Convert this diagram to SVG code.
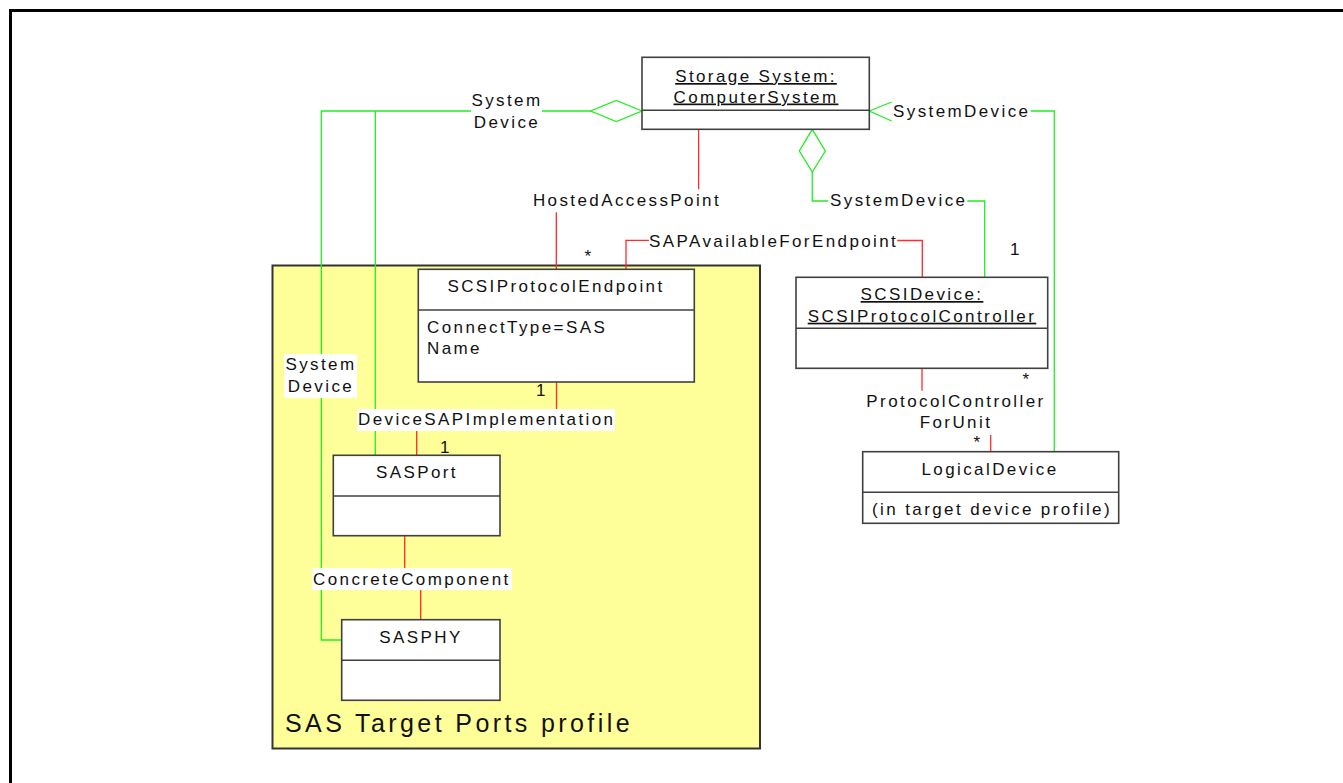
<svg xmlns="http://www.w3.org/2000/svg" width="1343" height="783" viewBox="0 0 1343 783">
<style>
text{font-family:"Liberation Sans",Arial,sans-serif;font-size:17px;letter-spacing:2.4px;fill:#111}
.c{text-anchor:middle}
.u{text-decoration:underline}
.box{fill:#fff;stroke:#404040;stroke-width:1.6}
.div{stroke:#404040;stroke-width:1.6}
.g{fill:none;stroke:#22ee22;stroke-width:1.3}
.r{fill:none;stroke:#ff2a2a;stroke-width:1.3}
.bg{fill:#fff}
</style>
<rect x="10.5" y="10.5" width="1400" height="1000" fill="none" stroke="#000" stroke-width="3"/>
<g id="profile">
<rect x="272.5" y="265.5" width="487.5" height="483" fill="#ffff99" stroke="#333" stroke-width="2"/>
<text x="285" y="731.5" style="font-size:25px;letter-spacing:3.4px">SAS Target Ports profile</text>
</g>
<g id="connectors">
<path class="g" d="M590.7 111H321.3V640H341.7"/>
<path class="g" d="M375.3 111V455.3"/>
<path d="M642 111L616.3 100.5L590.7 111L616.3 121.5Z" fill="#fff" stroke="#22ee22" stroke-width="1.3"/>
<path class="g" d="M891.7 102L869.3 111L891.7 121"/>
<path class="g" d="M1030.7 111H1054.3V451.7"/>
<path d="M812.3 129.3L825.3 151L812.3 172L799.3 151Z" fill="#fff" stroke="#22ee22" stroke-width="1.3"/>
<path class="g" d="M812.3 172V201H828.3"/>
<path class="g" d="M967.3 201H984.7V277.3"/>
<path class="r" d="M698.6 129.3V189.3"/>
<path class="r" d="M556.3 212.3V269.3"/>
<path class="r" d="M626 269.3V240.3H648.9"/>
<path class="r" d="M897.3 240.5H922.3V277.3"/>
<path class="r" d="M556.5 382V409"/>
<path class="r" d="M416.7 431V455.3"/>
<path class="r" d="M404.7 535.7V568"/>
<path class="r" d="M420.7 590V619.7"/>
<path class="r" d="M922 368.3V390.7"/>
<path class="r" d="M990.7 435V451.7"/>
<rect class="bg" x="471" y="95" width="71" height="38"/>
<text class="c" x="507" y="106">System</text>
<text class="c" x="507" y="127.7">Device</text>
<text class="c" x="627" y="206">HostedAccessPoint</text>
<text x="649" y="246.7">SAPAvailableForEndpoint</text>
<text x="893" y="116.7">SystemDevice</text>
<text x="830" y="206">SystemDevice</text>
<text x="1010" y="255">1</text>
<text class="c" x="589" y="262">*</text>
<text class="c" x="1027" y="385">*</text>
<text class="c" x="978" y="448">*</text>
<text class="c" x="542" y="395.7">1</text>
<text class="c" x="446" y="452.7">1</text>
<rect class="bg" x="357" y="409" width="258" height="22"/>
<text x="358" y="425">DeviceSAPImplementation</text>
<rect class="bg" x="284" y="354" width="73" height="44"/>
<text class="c" x="321" y="370">System</text>
<text class="c" x="321" y="391.7">Device</text>
<rect class="bg" x="312" y="568" width="200" height="22"/>
<text x="313" y="585">ConcreteComponent</text>
<text class="c" x="956" y="406.7">ProtocolController</text>
<text class="c" x="956" y="428.3">ForUnit</text>
</g>
<g id="storage-system">
<rect class="box" x="642" y="57.3" width="227.3" height="72"/>
<line class="div" x1="642" y1="110.3" x2="869.3" y2="110.3"/>
<text class="c u" x="756" y="82">Storage System:</text>
<text class="c u" x="756" y="102.5">ComputerSystem</text>
</g>
<g id="scsi-protocol-endpoint">
<rect class="box" x="418.3" y="269.3" width="276" height="112.7"/>
<line class="div" x1="418.3" y1="310" x2="694.3" y2="310"/>
<text class="c" x="556" y="292">SCSIProtocolEndpoint</text>
<text x="427" y="333">ConnectType=SAS</text>
<text x="427" y="354">Name</text>
</g>
<g id="sasport">
<rect class="box" x="333.3" y="455.3" width="166.7" height="80.4"/>
<line class="div" x1="333.3" y1="496" x2="500" y2="496"/>
<text class="c" x="417" y="478">SASPort</text>
</g>
<g id="sasphy">
<rect class="box" x="341.7" y="619.7" width="158.3" height="80.6"/>
<line class="div" x1="341.7" y1="660.3" x2="500" y2="660.3"/>
<text class="c" x="421" y="643">SASPHY</text>
</g>
<g id="scsi-device">
<rect class="box" x="796" y="277.3" width="251.7" height="91"/>
<line class="div" x1="796" y1="328.3" x2="1047.7" y2="328.3"/>
<text class="c u" x="922" y="300">SCSIDevice:</text>
<text class="c u" x="922" y="321.7">SCSIProtocolController</text>
</g>
<g id="logical-device">
<rect class="box" x="862.7" y="451.7" width="256" height="71.6"/>
<line class="div" x1="862.7" y1="492.3" x2="1118.7" y2="492.3"/>
<text class="c" x="990" y="475">LogicalDevice</text>
<text x="872" y="515">(in target device profile)</text>
</g>
</svg>
